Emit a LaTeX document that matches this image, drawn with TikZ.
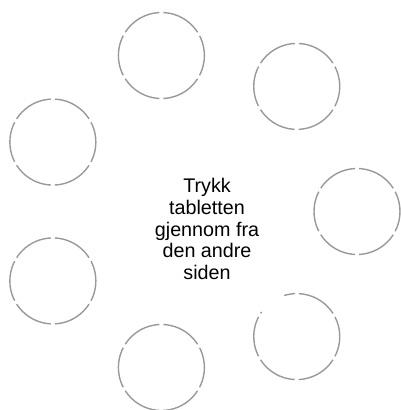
\documentclass[tikz,border=0pt]{standalone}
\usepackage{fontspec}
\setmainfont{Liberation Sans}
\usetikzlibrary{calc}
\begin{document}
\begin{tikzpicture}[
        x=1bp, y=1bp,
        % Styles
        hole/.style={draw=black!40, line width=1.4bp, dash pattern=on 41bp off 4bp, dash phase=#1},
        hole/.default=20.5bp,
        lbl/.style={font=\fontsize{19.8}{21.9}\selectfont, align=center, inner sep=0pt}
    ]
    \useasboundingbox (0,0) rectangle (401,410);

    % Ring of tablet holes
    \coordinate (ring) at (197,198.5);
    \foreach \i in {0,...,5}
        \draw[hole] ($(ring)+(\i*360/7:160)$) circle (43);

    % Lower right hole, partly open
    \coordinate (hole6) at ($(ring)+(6*360/7:160)$);
    \draw[hole=39.25bp] ($(hole6)+(145:43)$) arc (145:467:43);

    % Instruction
    \node[lbl] (instr) at (207,181) {Trykk\\tabletten\\gjennom fra\\den andre\\siden};
\end{tikzpicture}
\end{document}
